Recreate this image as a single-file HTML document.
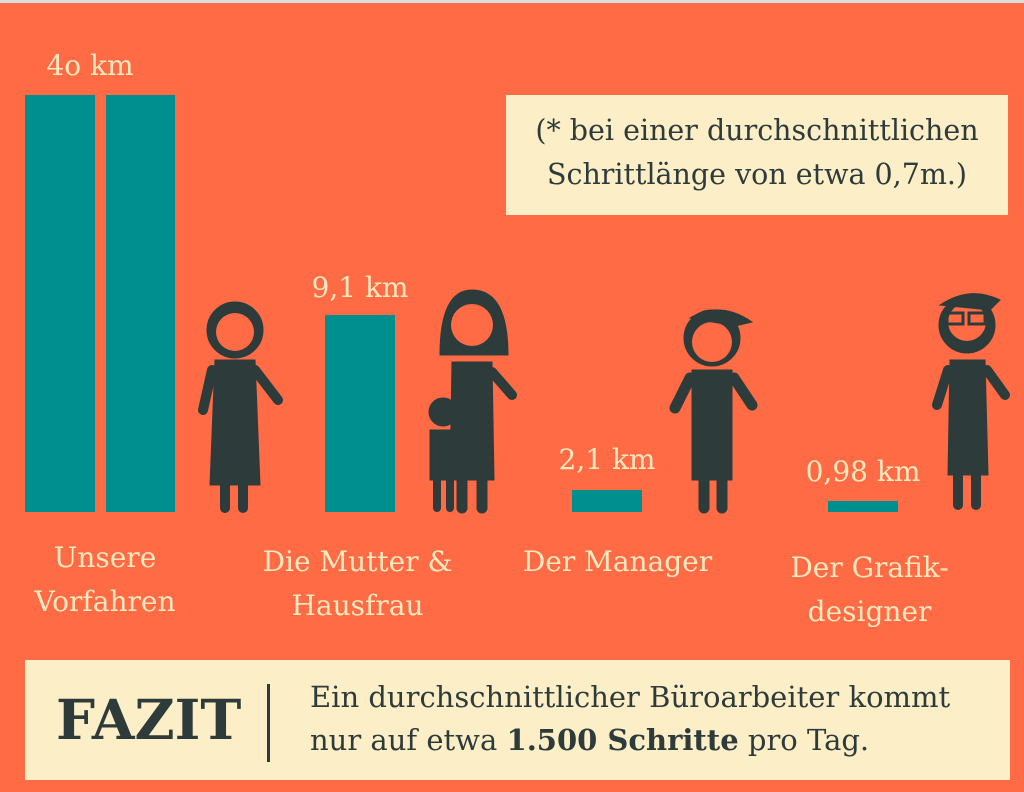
<!DOCTYPE html>
<html><head><meta charset="utf-8"><style>
body{margin:0;width:1024px;height:792px;overflow:hidden;background:#ff6b45;position:relative;font-family:"DejaVu Serif",serif;}
.a{position:absolute}
.bar{position:absolute;background:#008f8f}
.t{position:absolute;color:#fde9c0;font-size:28px;text-align:center;line-height:44px;white-space:nowrap}
</style></head><body>
<div class="a" style="left:0;top:0;width:1024px;height:3px;background:#ddd"></div>
<div class="t" style="left:25px;top:44px;width:130px">4o km</div>
<div class="bar" style="left:25px;top:95px;width:70px;height:417px"></div>
<div class="bar" style="left:106px;top:95px;width:69px;height:417px"></div>
<div class="t" style="left:290px;top:266px;width:140px">9,1 km</div>
<div class="bar" style="left:325px;top:315px;width:70px;height:197px"></div>
<div class="t" style="left:537px;top:438px;width:140px">2,1 km</div>
<div class="bar" style="left:572px;top:490px;width:70px;height:22px"></div>
<div class="t" style="left:790px;top:450px;width:146px">0,98 km</div>
<div class="bar" style="left:828px;top:501px;width:70px;height:11px"></div>
<div class="a" style="left:506px;top:95px;width:502px;height:120px;background:#fcefc7;color:#2e3b3b;font-size:28.5px;line-height:44px;text-align:center;padding-top:14px;box-sizing:border-box;white-space:nowrap">(* bei einer durchschnittlichen<br>Schrittlänge von etwa 0,7m.)</div>
<div class="t" style="left:0;top:536px;width:210px">Unsere<br>Vorfahren</div>
<div class="t" style="left:250px;top:540px;width:215px">Die Mutter &amp;<br>Hausfrau</div>
<div class="t" style="left:510px;top:540px;width:215px">Der Manager</div>
<div class="t" style="left:762px;top:546px;width:215px">Der Grafik-<br>designer</div>
<div class="a" style="left:25px;top:660px;width:985px;height:120px;background:#fcefc7"></div>
<div class="a" style="left:56px;top:688px;font-size:55px;font-weight:bold;color:#2e3b3b;line-height:64px">FAZIT</div>
<div class="a" style="left:267px;top:684px;width:3px;height:78px;background:#2e3b3b"></div>
<div class="a" style="left:310px;top:676px;font-size:29px;line-height:43px;color:#2e3b3b;white-space:nowrap">Ein durchschnittlicher Büroarbeiter kommt<br>nur auf etwa <b>1.500 Schritte</b> pro Tag.</div>
<svg class="a" style="left:0;top:0" width="1024" height="792" fill="#2e3b3b" stroke="#2e3b3b" stroke-linecap="round">
<circle cx="235" cy="330" r="28"/><circle cx="235" cy="332" r="19" fill="#ff6b45" stroke="none"/>
<path d="M215 360 L255 360 L260 485 L210 485 Z"/>
<line x1="212" y1="370" x2="203" y2="410" stroke-width="10"/><line x1="255" y1="370" x2="278" y2="400" stroke-width="10"/>
<line x1="225" y1="485" x2="225" y2="508" stroke-width="10"/><line x1="243" y1="485" x2="243" y2="508" stroke-width="10"/>
<path d="M440 355 Q440 290 472 290 Q508 290 508 355 Z"/><circle cx="472" cy="325" r="21" fill="#ff6b45" stroke="none"/>
<path d="M452 362 L492 362 L494 480 L450 480 Z"/>
<line x1="492" y1="372" x2="512" y2="395" stroke-width="10"/>
<line x1="462" y1="480" x2="462" y2="508" stroke-width="11"/><line x1="482" y1="480" x2="482" y2="508" stroke-width="11"/>
<circle cx="443" cy="412" r="14"/><path d="M430 430 L456 430 L456 480 L430 480 Z"/>
<line x1="437" y1="480" x2="437" y2="508" stroke-width="8"/><line x1="450" y1="480" x2="450" y2="508" stroke-width="8"/>
<circle cx="712" cy="338" r="28"/><circle cx="712" cy="342" r="20" fill="#ff6b45" stroke="none"/>
<path d="M690 318 Q720 300 752 322 L735 326 Z"/>
<path d="M692 370 L732 370 L732 480 L692 480 Z"/>
<line x1="690" y1="378" x2="675" y2="408" stroke-width="11"/><line x1="734" y1="378" x2="752" y2="405" stroke-width="11"/>
<line x1="704" y1="480" x2="704" y2="508" stroke-width="11"/><line x1="722" y1="480" x2="722" y2="508" stroke-width="11"/>
<circle cx="967" cy="325" r="28"/><circle cx="967" cy="322" r="19" fill="#ff6b45" stroke="none"/>
<path d="M940 305 Q970 285 1000 300 L990 310 Z"/>
<rect x="947" y="313" width="16" height="11" fill="none" stroke-width="3"/><rect x="969" y="313" width="16" height="11" fill="none" stroke-width="3"/>
<path d="M950 360 L985 360 L988 475 L948 475 Z"/>
<line x1="948" y1="370" x2="937" y2="405" stroke-width="10"/><line x1="987" y1="370" x2="1005" y2="395" stroke-width="10"/>
<line x1="958" y1="475" x2="958" y2="505" stroke-width="10"/><line x1="976" y1="475" x2="976" y2="505" stroke-width="10"/>
</svg>
</body></html>
